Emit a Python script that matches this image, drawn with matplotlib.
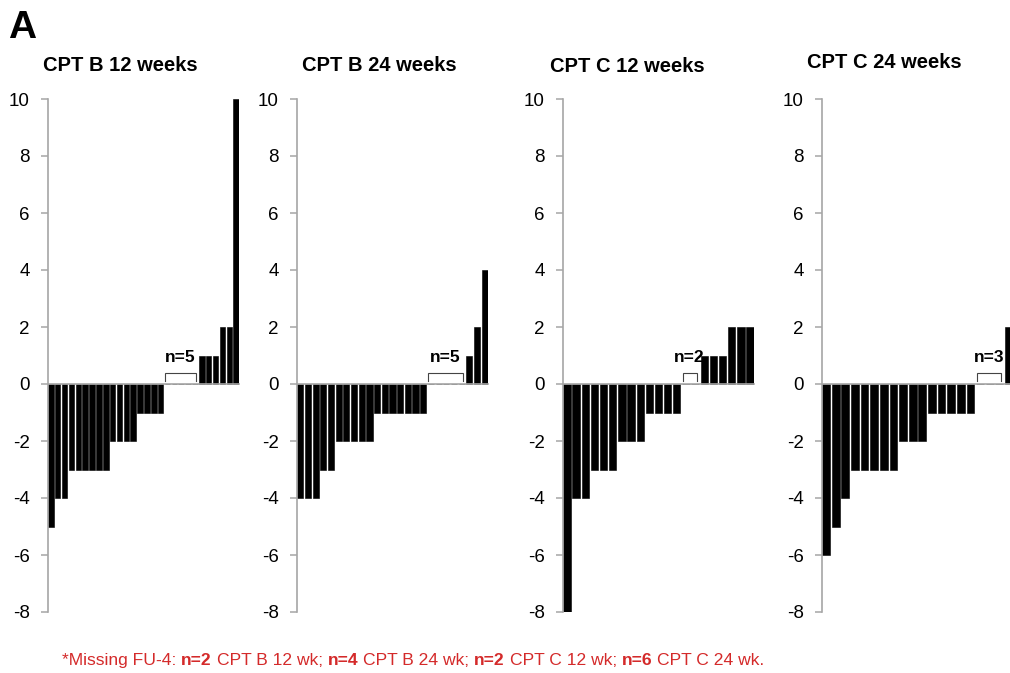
import matplotlib
matplotlib.use("Agg")
import matplotlib.pyplot as plt
import numpy as np

plt.rcParams['font.family'] = ['Liberation Sans', 'DejaVu Sans']
plt.rcParams['axes.unicode_minus'] = False

# ---- data ----
titles = ["CPT B 12 weeks", "CPT B 24 weeks", "CPT C 12 weeks", "CPT C 24 weeks"]
cptb_12 = [-5, -4, -4, -3, -3, -3, -3, -3, -3, -2, -2, -2, -2, -1, -1, -1, -1,
           0, 0, 0, 0, 0, 1, 1, 1, 2, 2, 10]
cptb_24 = [-4, -4, -4, -3, -3, -2, -2, -2, -2, -2, -1, -1, -1, -1, -1, -1, -1,
           0, 0, 0, 0, 0, 1, 2, 4]
cptc_12 = [-8, -4, -4, -3, -3, -3, -2, -2, -2, -1, -1, -1, -1,
           0, 0, 1, 1, 1, 2, 2, 2]
cptc_24 = [-6, -5, -4, -3, -3, -3, -3, -3, -2, -2, -2, -1, -1, -1, -1, -1,
           0, 0, 0, 2]
series = [cptb_12, cptb_24, cptc_12, cptc_24]
yticks = [-8, -6, -4, -2, 0, 2, 4, 6, 8, 10]
footnote = [("*Missing FU-4:", False), ("n=2", True), ("CPT B 12 wk;", False),
            ("n=4", True), ("CPT B 24 wk;", False), ("n=2", True),
            ("CPT C 12 wk;", False), ("n=6", True), ("CPT C 24 wk.", False)]

W, H = 1010, 673
fig = plt.figure(figsize=(W / 100, H / 100), dpi=100)

ax_left_px = [48, 297, 563, 822]
ax_width_px = 191
ax_bottom = 1 - 612 / H
ax_height = (612 - 99) / H
title_pos = [(43, 71), (302, 71), (550, 72), (807, 68)]

gray = '#a6a6a6'
for k, vals in enumerate(series):
    vals = np.array(vals)
    n = len(vals)
    ax = fig.add_axes([ax_left_px[k] / W, ax_bottom, ax_width_px / W, ax_height])
    x = np.arange(n)
    ax.bar(x, vals, width=0.8, color='black', edgecolor='black', linewidth=0.4)
    ax.set_xlim(-0.42, n - 1 + 0.42)
    ax.set_ylim(-8, 10)
    ax.set_yticks(yticks)
    ax.set_yticklabels([str(t) for t in yticks])
    ax.set_xticks([])
    for s in ['top', 'right']:
        ax.spines[s].set_visible(False)
    ax.spines['left'].set_color(gray)
    ax.spines['left'].set_linewidth(1.2)
    ax.spines['bottom'].set_position(('data', 0))
    ax.spines['bottom'].set_color(gray)
    ax.spines['bottom'].set_linewidth(1.2)
    ax.tick_params(axis='y', direction='out', length=5, width=1.1, color=gray,
                   labelsize=13.5, pad=8, labelcolor='black')
    ax.patch.set_visible(False)

    # bracket over zero values
    zi = np.where(vals == 0)[0]
    i0, i1 = zi[0], zi[-1]
    bx0, bx1 = i0 - 0.35, i1 + 0.15
    bh = 0.4
    ax.plot([bx0, bx0, bx1, bx1], [0.1, bh, bh, 0.1], color='#444444',
            linewidth=0.8, clip_on=False, solid_joinstyle='miter')
    ax.text((bx0 + bx1) / 2, bh + 0.25, f"n={len(zi)}", ha='center', va='bottom',
            fontsize=12.5, fontweight='bold', clip_on=False)

    tx, ty = title_pos[k]
    fig.text(tx / W, 1 - ty / H, titles[k], ha='left', va='baseline',
             fontsize=14.5, fontweight='bold')

fig.text(8 / W, 1 - 38 / H, "A", ha='left', va='baseline', fontsize=28,
         fontweight='bold')

# footnote with mixed bold pieces, laid out sequentially
fs = 12.6
red = '#d42a2a'
fig.canvas.draw()
renderer = fig.canvas.get_renderer()
t1 = fig.text(0, 0, "xx", fontsize=fs)
t2 = fig.text(0, 0, "x x", fontsize=fs)
space = (t2.get_window_extent(renderer).width - t1.get_window_extent(renderer).width)
t1.remove(); t2.remove()
xpx = 62
for txt, bold in footnote:
    t = fig.text(xpx / W, 1 - 665 / H, txt, ha='left', va='baseline', fontsize=fs,
                 color=red, fontweight='bold' if bold else 'normal')
    w = t.get_window_extent(renderer).width
    xpx += w + space

fig.savefig("out.png", dpi=100)
